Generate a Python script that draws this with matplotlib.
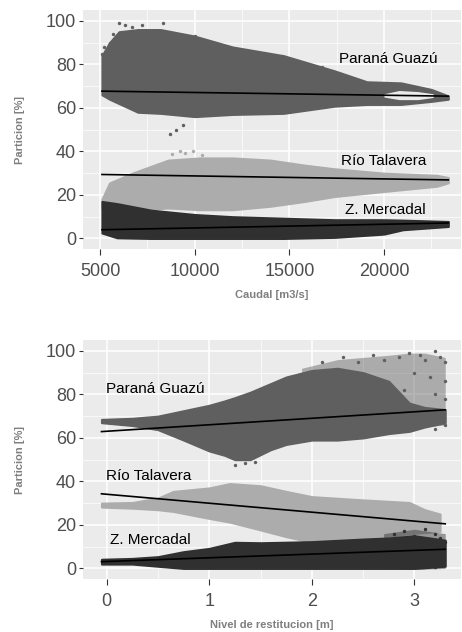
import matplotlib
matplotlib.use("Agg")
import matplotlib.pyplot as plt
from matplotlib.ticker import MultipleLocator

# ---- data (cloud envelopes, trend ends, a few outliers) ----
# top panel: Caudal [m3/s]
pg_q = [5100, 5500, 6000, 7000, 8200, 10000, 12000, 14700, 17400, 19100, 20900, 22500, 23400]
pg_q_hi = [84, 90, 95, 96, 96, 93, 88, 84, 77, 72, 71.5, 68.5, 65.5]
pg_q_lo = [66, 64, 62, 58, 57.5, 56, 57, 57.5, 60.8, 61.6, 61.6, 63, 64]
pg_q_out_x = [5100, 5300, 5500, 6000, 6300, 6700, 7200, 8300, 10000, 10300, 14800, 16700,
              8700, 9000, 9400, 5200, 5700]
pg_q_out_y = [85, 80, 90, 99, 98, 97, 98, 99, 93, 91, 82, 79,
              48, 50, 52, 88, 94]
pg_q_hole_x = [20000, 20800, 21800, 22600]
pg_q_hole_hi = [66.5, 68, 67.5, 66.5]
pg_q_hole_lo = [65, 63.8, 63.8, 64.8]

rt_q = [5100, 5500, 6700, 8600, 10300, 12000, 14000, 15800, 17400, 20000, 22800, 23400]
rt_q_hi = [18, 25.5, 30, 36, 37, 37, 36, 33.7, 32, 30, 29, 28]
rt_q_lo = [14, 13, 13, 14, 13.2, 13.2, 14.8, 17, 19.3, 21.6, 24, 25.6]
rt_q_out_x = [8800, 9200, 9500, 9900, 10400]
rt_q_out_y = [39, 40, 39.5, 40, 38.5]

zm_q = [5100, 5900, 7700, 10000, 12000, 14700, 17400, 20000, 21000, 23400]
zm_q_hi = [17, 16, 13, 11, 10, 9.3, 8.6, 8.6, 8.4, 7.8]
zm_q_lo = [2.5, 0.3, 0, 0, 0, 0, 0.5, 2, 4, 5.5]

fit_q = [5100, 23400]
pg_q_fit = [67.7, 65.4]
rt_q_fit = [29.4, 26.9]
zm_q_fit = [4.0, 7.1]

# bottom panel: Nivel de restitucion [m]
pg_n = [-0.05, 0.25, 0.5, 0.75, 1.0, 1.15, 1.25, 1.4, 1.6, 1.75, 2.0, 2.25, 2.5, 2.75, 2.95, 3.1, 3.3]
pg_n_hi = [68.5, 69, 70, 72.5, 75, 77, 78.5, 81, 85, 88, 91, 92, 90, 86, 76, 74, 73]
pg_n_lo = [67, 65.7, 63.8, 59, 54, 52, 50, 50, 54.6, 57, 59, 59, 60, 62, 63, 65, 67]
pg_n_sparse_x = [1.9, 2.25, 2.5, 2.75, 2.95, 3.1, 3.3]
pg_n_sparse_hi = [92, 96, 97, 98, 99, 99, 97]
pg_n_sparse_lo = [62, 60, 61, 62, 63, 65, 66]
pg_n_out_x = [2.1, 2.3, 2.45, 2.6, 2.7, 2.85, 2.95, 3.05, 3.1, 3.2, 3.25, 3.3, 3.0,
              3.15, 3.3, 2.9, 3.2, 3.3, 3.1, 3.3, 3.2, 1.25, 1.35, 1.45]
pg_n_out_y = [95, 97, 95, 98, 96, 97, 99, 98, 96, 100, 97, 95, 90,
              88, 86, 82, 80, 78, 70, 66, 64, 47.5, 48.5, 49]

rt_n = [-0.05, 0.25, 0.5, 0.65, 1.0, 1.2, 1.5, 1.75, 2.0, 2.5, 2.95, 3.1, 3.25]
rt_n_hi = [30, 30.3, 32.3, 35.4, 37, 39, 38, 35.4, 33, 31.5, 30.3, 27, 25]
rt_n_lo = [28.2, 27.7, 27, 26.2, 23, 21.3, 17.7, 14.6, 12, 13, 16, 16.5, 17]

zm_n = [-0.05, 0.25, 0.5, 0.75, 1.0, 1.25, 1.5, 2.0, 2.5, 2.75, 3.0, 3.3]
zm_n_hi = [4.2, 4.6, 5.4, 7.7, 9.2, 12, 11.8, 12.3, 13.5, 14, 15, 13]
zm_n_lo = [2, 2, 1, 0, 0, 0, 0, 0, 0, 0, 0, 1]
zm_n_sparse_x = [2.7, 3.0, 3.3]
zm_n_sparse_hi = [16, 18, 16]
zm_n_sparse_lo = [0, -0.5, 0]
zm_n_out_x = [2.8, 2.9, 3.0, 3.1, 3.2, 3.25, 3.3, 3.05, 3.2]
zm_n_out_y = [16, 17, 15, 18, 16, 14, 12, 1, 0.5]

fit_n = [-0.05, 3.3]
pg_n_fit = [62.9, 72.9]
rt_n_fit = [34.3, 20.5]
zm_n_fit = [3.1, 8.8]

PG_C = "#5f5f5f"
RT_C = "#acacac"
ZM_C = "#303030"
BG_C = "#ebebeb"

plt.rcParams['font.family'] = ['Liberation Sans', 'DejaVu Sans']


def style_panel(ax, xlabel):
    ax.set_facecolor(BG_C)
    for s in ax.spines.values():
        s.set_visible(False)
    ax.grid(which="major", color="white", linewidth=1.1)
    ax.grid(which="minor", color="white", linewidth=0.5)
    ax.set_axisbelow(True)
    ax.tick_params(which="major", length=3, width=0.8, color="#333333",
                   labelsize=13, labelcolor="#4d4d4d", pad=2)
    ax.tick_params(axis="x", which="major", length=4, pad=6)
    ax.tick_params(which="minor", length=0)
    ax.set_ylim(-5, 105)
    ax.yaxis.set_major_locator(MultipleLocator(20))
    ax.yaxis.set_minor_locator(MultipleLocator(10))
    ax.set_ylabel("Particion [%]", fontsize=8, fontweight="bold", color="#7f7f7f", labelpad=15)
    ax.set_xlabel(xlabel, fontsize=8, fontweight="bold", color="#7f7f7f", labelpad=7)


def cloud(ax, x, lo, hi, color, ox=None, oy=None):
    ax.fill_between(x, lo, hi, color=color, linewidth=1.5, edgecolor=color)
    if ox is not None:
        ax.scatter(ox, oy, s=6, color=color, linewidths=0)


fig = plt.figure(figsize=(4.62, 6.32), dpi=100)
ax1 = fig.add_axes([0.1797, 0.6055, 0.8173, 0.3787])
ax2 = fig.add_axes([0.1797, 0.0834, 0.8173, 0.3786])

# top panel
style_panel(ax1, "Caudal [m3/s]")
cloud(ax1, pg_q, pg_q_lo, pg_q_hi, PG_C, pg_q_out_x, pg_q_out_y)
ax1.fill_between(pg_q_hole_x, pg_q_hole_lo, pg_q_hole_hi, color=BG_C, linewidth=0)
cloud(ax1, rt_q, rt_q_lo, rt_q_hi, RT_C, rt_q_out_x, rt_q_out_y)
cloud(ax1, zm_q, zm_q_lo, zm_q_hi, ZM_C)
for fy in (pg_q_fit, rt_q_fit, zm_q_fit):
    ax1.plot(fit_q, fy, color="black", linewidth=1.2)
ax1.set_xlim(4100, 24050)
ax1.xaxis.set_major_locator(MultipleLocator(5000))
ax1.xaxis.set_minor_locator(MultipleLocator(2500))
ax1.text(20250, 82.3, "Paraná Guazú", fontsize=11, ha="center", va="center")
ax1.text(19960, 35.5, "Río Talavera", fontsize=11, ha="center", va="center")
ax1.text(20090, 13.2, "Z. Mercadal", fontsize=11, ha="center", va="center")

# bottom panel
style_panel(ax2, "Nivel de restitucion [m]")
ax2.fill_between(pg_n_sparse_x, pg_n_sparse_lo, pg_n_sparse_hi, color=PG_C, alpha=0.45, linewidth=0)
cloud(ax2, pg_n, pg_n_lo, pg_n_hi, PG_C, pg_n_out_x, pg_n_out_y)
cloud(ax2, rt_n, rt_n_lo, rt_n_hi, RT_C)
ax2.fill_between(zm_n_sparse_x, zm_n_sparse_lo, zm_n_sparse_hi, color=ZM_C, alpha=0.45, linewidth=0)
cloud(ax2, zm_n, zm_n_lo, zm_n_hi, ZM_C, zm_n_out_x, zm_n_out_y)
for fy in (pg_n_fit, rt_n_fit, zm_n_fit):
    ax2.plot(fit_n, fy, color="black", linewidth=1.2)
ax2.set_xlim(-0.23, 3.45)
ax2.xaxis.set_major_locator(MultipleLocator(1))
ax2.xaxis.set_minor_locator(MultipleLocator(0.5))
ax2.text(0.47, 82.6, "Paraná Guazú", fontsize=11, ha="center", va="center")
ax2.text(0.41, 42.7, "Río Talavera", fontsize=11, ha="center", va="center")
ax2.text(0.43, 13.0, "Z. Mercadal", fontsize=11, ha="center", va="center")

fig.savefig("out.png", dpi=100)
